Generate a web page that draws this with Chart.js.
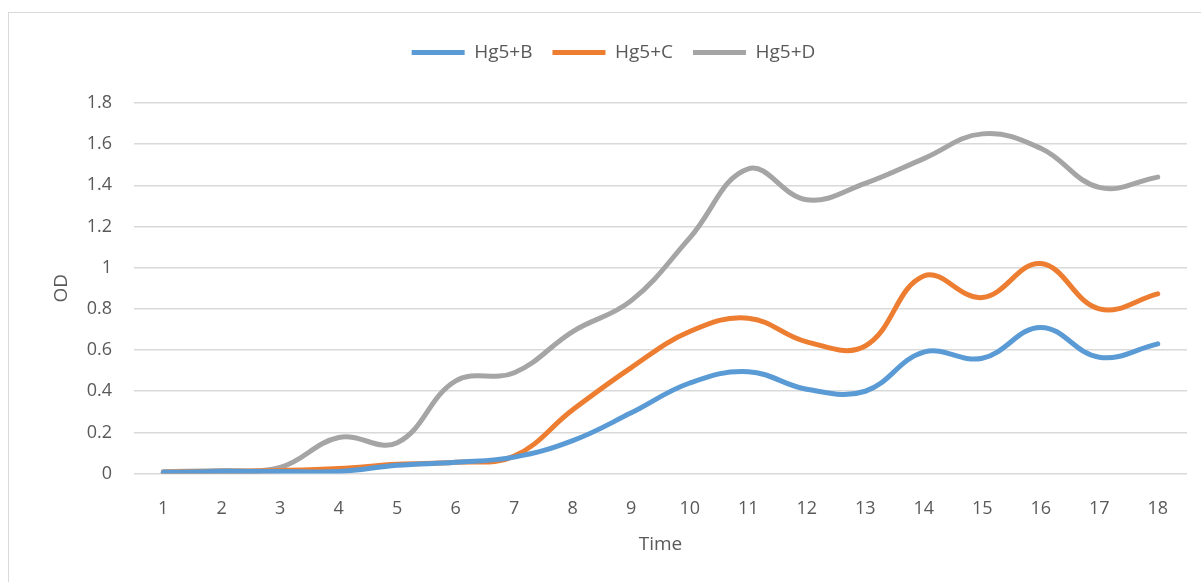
<!DOCTYPE html>
<html>
<head>
<meta charset="utf-8">
<script src="https://cdn.jsdelivr.net/npm/chart.js@4.4.1/dist/chart.umd.min.js"></script>
<style>
  html, body { margin: 0; padding: 0; background: #fff; overflow: hidden; }
  #wrap { position: relative; width: 1201px; height: 582px; }
  #frame { position: absolute; left: 8px; top: 12px; width: 1300px; height: 700px;
           border: 1px solid #d9d9d9; box-sizing: border-box; pointer-events: none; }
</style>
</head>
<body>
<div id="wrap">
  <canvas id="od-chart" width="1201" height="582"></canvas>
  <div id="frame"></div>
</div>
<script>
const timeLabels = ["1", "2", "3", "4", "5", "6", "7", "8", "9", "10", "11", "12", "13", "14", "15", "16", "17", "18"];
const hg5B = [0.005, 0.01, 0.01, 0.01, 0.04, 0.055, 0.08, 0.16, 0.295, 0.44, 0.495, 0.41, 0.40, 0.59, 0.56, 0.71, 0.565, 0.63];
const hg5C = [0.005, 0.01, 0.015, 0.025, 0.045, 0.055, 0.085, 0.31, 0.515, 0.69, 0.755, 0.64, 0.62, 0.96, 0.855, 1.02, 0.80, 0.873];
const hg5D = [0.01, 0.015, 0.03, 0.175, 0.15, 0.45, 0.49, 0.69, 0.84, 1.145, 1.48, 1.33, 1.41, 1.53, 1.65, 1.58, 1.39, 1.44];

const textColor = "#595959";
const gridColor = "#d9d9d9";
const font = "'Open Sans', 'DejaVu Sans', sans-serif";

function series(label, data, color) {
  return {
    label: label,
    data: data,
    borderColor: color,
    backgroundColor: color,
    borderWidth: 5,
    borderCapStyle: "round",
    borderJoinStyle: "round",
    pointRadius: 0,
    pointHoverRadius: 0,
    pointStyle: "line",
    tension: 0.4,
    fill: false,
  };
}

new Chart(document.getElementById("od-chart"), {
  type: "line",
  data: {
    labels: timeLabels,
    datasets: [
      series("Hg5+B", hg5B, "#5b9bd5"),
      series("Hg5+C", hg5C, "#ed7d31"),
      series("Hg5+D", hg5D, "#a5a5a5"),
    ],
  },
  options: {
    responsive: false,
    animation: false,
    layout: { padding: { left: 40, right: 14, top: 23, bottom: 26 } },
    plugins: {
      tooltip: { enabled: false },
      legend: {
        position: "top",
        labels: {
          usePointStyle: true,
          pointStyleWidth: 53,
          color: textColor,
          font: { family: font, size: 19 },
          padding: 20,
          boxHeight: 5,
        },
      },
      // empty title used only as a spacer between legend and plot
      title: {
        display: true,
        text: "",
        weight: 500,
        font: { size: 10 },
        padding: { top: 0, bottom: 19 },
      },
    },
    scales: {
      x: {
        offset: true,
        grid: { display: false },
        border: { display: false },
        ticks: { color: textColor, font: { family: font, size: 18 }, padding: 16, maxRotation: 0 },
        title: { display: true, text: "Time", color: textColor, font: { family: font, size: 19 }, padding: { top: -2, bottom: 0 } },
      },
      y: {
        min: 0,
        max: 1.8,
        ticks: {
          stepSize: 0.2,
          color: textColor,
          font: { family: font, size: 18 },
          padding: 22,
          callback: (v) => String(Number(v.toFixed(1))),
        },
        grid: { color: gridColor, lineWidth: 1.5, drawTicks: false },
        border: { display: false },
        title: { display: true, text: "OD", color: textColor, font: { family: font, size: 19 }, padding: { top: 10 } },
        afterFit(scale) { scale.width = 94; },
      },
    },
  },
});
</script>
</body>
</html>
